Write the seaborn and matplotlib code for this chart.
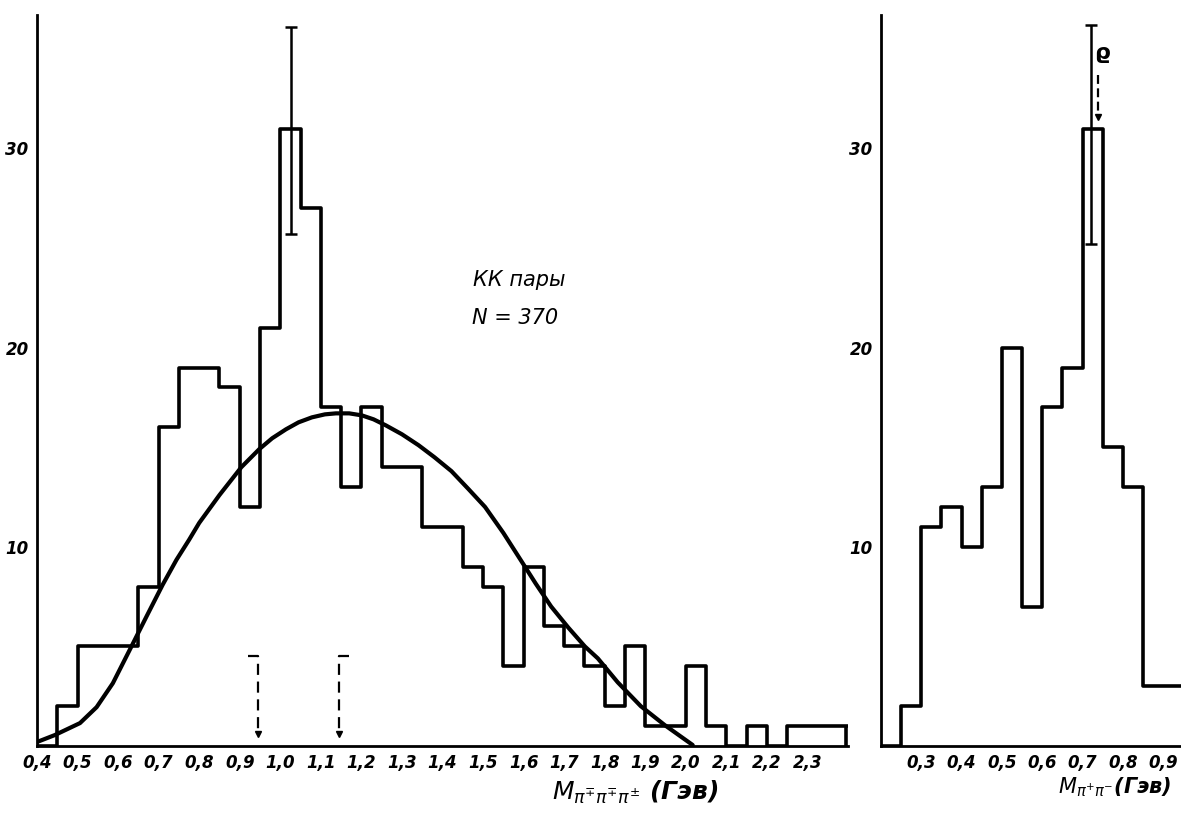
import numpy as np
import pandas as pd
import matplotlib
matplotlib.use('Agg')
import matplotlib.pyplot as plt
import seaborn as sns

# left panel: 3-pion mass, bins of 0.05 GeV
left_bins = [0.40, 0.45, 0.50, 0.55, 0.60, 0.65, 0.70, 0.75, 0.80, 0.85,
             0.90, 0.95, 1.00, 1.05, 1.10, 1.15, 1.20, 1.25, 1.30, 1.35,
             1.40, 1.45, 1.50, 1.55, 1.60, 1.65, 1.70, 1.75, 1.80, 1.85,
             1.90, 1.95, 2.00, 2.05, 2.10, 2.15, 2.20, 2.25, 2.30, 2.35, 2.40]
left_counts = [0, 2, 5, 5, 5, 8, 16, 19, 19, 18,
               12, 21, 31, 27, 17, 13, 17, 14, 14, 11,
               11, 9, 8, 4, 9, 6, 5, 4, 2, 5,
               1, 1, 4, 1, 0, 1, 0, 1, 1, 1]
left_ticks = [0.4, 0.5, 0.6, 0.7, 0.8, 0.9, 1.0, 1.1, 1.2, 1.3,
              1.4, 1.5, 1.6, 1.7, 1.8, 1.9, 2.0, 2.1, 2.2, 2.3]
left_ticklabels = ['0,4', '0,5', '0,6', '0,7', '0,8', '0,9', '1,0', '1,1', '1,2', '1,3',
                   '1,4', '1,5', '1,6', '1,7', '1,8', '1,9', '2,0', '2,1', '2,2', '2,3']

# smooth curve
curve_x = [0.40, 0.444, 0.506, 0.547, 0.587, 0.628, 0.67, 0.71, 0.744, 0.775, 0.80,
           0.85, 0.904, 0.948, 0.98, 1.014, 1.045, 1.078, 1.11, 1.137, 1.17, 1.201,
           1.23, 1.26, 1.30, 1.341, 1.38, 1.422, 1.464, 1.505, 1.55, 1.594, 1.63,
           1.668, 1.71, 1.751, 1.783, 1.832, 1.889, 1.948, 2.017]
curve_y = [0.2, 0.55, 1.15, 1.95, 3.15, 4.8, 6.5, 8.1, 9.35, 10.35, 11.2,
           12.6, 14.0, 14.9, 15.45, 15.9, 16.25, 16.5, 16.65, 16.7, 16.7, 16.6,
           16.4, 16.1, 15.65, 15.1, 14.5, 13.8, 12.9, 12.0, 10.7, 9.3, 8.15,
           7.0, 5.95, 5.0, 4.4, 3.2, 2.0, 1.05, 0.05]

left_err_x = [1.027]
left_err_y = [31]
left_err = [[5.3], [5.1]]

# dashed arrows under the histogram
arrow_x = [0.945, 1.145]
arrow_top = 4.5
arrow_flag = [-0.025, 0.025]

# right panel: pi+pi- mass
right_bins = [0.20, 0.25, 0.30, 0.35, 0.40, 0.45, 0.50, 0.55, 0.60,
              0.65, 0.70, 0.75, 0.80, 0.85, 0.90, 0.95]
right_counts = [0, 2, 11, 12, 10, 13, 20, 7, 17, 19, 31, 15, 13, 3, 3]
right_ticks = [0.3, 0.4, 0.5, 0.6, 0.7, 0.8, 0.9]
right_ticklabels = ['0,3', '0,4', '0,5', '0,6', '0,7', '0,8', '0,9']
right_minor = [0.35, 0.45, 0.55, 0.65, 0.75, 0.85]
right_err_x = [0.72]
right_err_y = [31]
right_err = [[5.8], [5.2]]
rho_x = 0.737
rho_arrow = [33.7, 31.6]

y_ticks = [10, 20, 30]

sns.set_style('white')
plt.rcParams['font.family'] = ['DejaVu Sans']
plt.rcParams['mathtext.fontset'] = 'dejavusans'
for key in ('text.color', 'axes.labelcolor', 'xtick.color', 'ytick.color'):
    plt.rcParams[key] = 'black'

fig = plt.figure(figsize=(11.81, 8.32), dpi=100)
ax1 = fig.add_axes([37 / 1181, 86 / 832, 811 / 1181, 731 / 832])
ax2 = fig.add_axes([881 / 1181, 86 / 832, 300 / 1181, 731 / 832])

left_df = pd.DataFrame({'m': np.array(left_bins[:-1]) + 0.025, 'n': left_counts})
right_df = pd.DataFrame({'m': np.array(right_bins[:-1]) + 0.025, 'n': right_counts})

sns.histplot(data=left_df, x='m', weights='n', bins=left_bins, element='step',
             fill=False, color='black', linewidth=2.6, ax=ax1)
ax1.vlines(left_bins[-1] - 0.005, 0, left_counts[-1], color='black', linewidth=2.6)
sns.lineplot(x=curve_x, y=curve_y, sort=False, color='black', linewidth=3, ax=ax1)
ax1.errorbar(left_err_x, left_err_y, yerr=left_err, fmt='none', ecolor='black',
             elinewidth=1.8, capsize=4, capthick=1.8)

for x, d in zip(arrow_x, arrow_flag):
    ax1.plot([x + d, x, x], [arrow_top, arrow_top, 0.6], color='black', lw=1.6, ls=(0, (5, 3)))
    ax1.plot([x], [0.6], marker='v', color='black', markersize=5)

ax1.text(1.59, 23.4, 'КК пары', fontsize=15, style='italic', ha='center', va='center')
ax1.text(1.58, 21.5, 'N = 370', fontsize=15, style='italic', ha='center', va='center')

sns.histplot(data=right_df, x='m', weights='n', bins=right_bins, element='step',
             fill=False, color='black', linewidth=2.6, ax=ax2)
ax2.errorbar(right_err_x, right_err_y, yerr=right_err, fmt='none', ecolor='black',
             elinewidth=1.8, capsize=4, capthick=1.8)
ax2.plot([rho_x, rho_x], rho_arrow, color='black', lw=1.6, ls=(0, (4, 2)))
ax2.plot([rho_x], [rho_arrow[1]], marker='v', color='black', markersize=5)
ax2.text(rho_x + 0.012, 34.8, 'ϱ', fontsize=16, fontweight='bold', ha='center', va='center')

for ax in (ax1, ax2):
    ax.set_ylim(0, 36.7)
    ax.set_yticks(y_ticks)
    ax.set_yticklabels([str(v) for v in y_ticks], fontsize=12, fontweight='bold', style='italic')
    ax.set_ylabel('')
    for side in ('top', 'right'):
        ax.spines[side].set_visible(False)
    for side in ('left', 'bottom'):
        ax.spines[side].set_linewidth(2)
        ax.spines[side].set_color('black')
    ax.tick_params(axis='y', direction='inout', length=8, width=1.5, pad=2)
    ax.tick_params(axis='x', direction='inout', length=5, width=2, pad=3)
    ax.patch.set_alpha(0)

ax1.set_xlim(0.4, 2.4)
ax1.set_xticks(left_ticks)
ax1.set_xticklabels(left_ticklabels, fontsize=12, fontweight='bold', style='italic')
ax1.set_xlabel(r'$M_{\pi^{\mp}\pi^{\mp}\pi^{\pm}}$ (Гэв)', fontsize=18, fontweight='bold', style='italic')
ax1.xaxis.set_label_coords(0.737, -0.045)

ax2.set_xlim(0.2, 0.944)
ax2.set_xticks(right_ticks)
ax2.set_xticks(right_minor, minor=True)
ax2.tick_params(axis='x', which='minor', direction='inout', length=5, width=2)
ax2.set_xticklabels(right_ticklabels, fontsize=12, fontweight='bold', style='italic')
ax2.set_xlabel(r'$M_{\pi^{+}\pi^{-}}$(Гэв)', fontsize=15, fontweight='bold', style='italic')
ax2.xaxis.set_label_coords(0.78, -0.04)

fig.savefig('out.png', dpi=100, facecolor='white')
